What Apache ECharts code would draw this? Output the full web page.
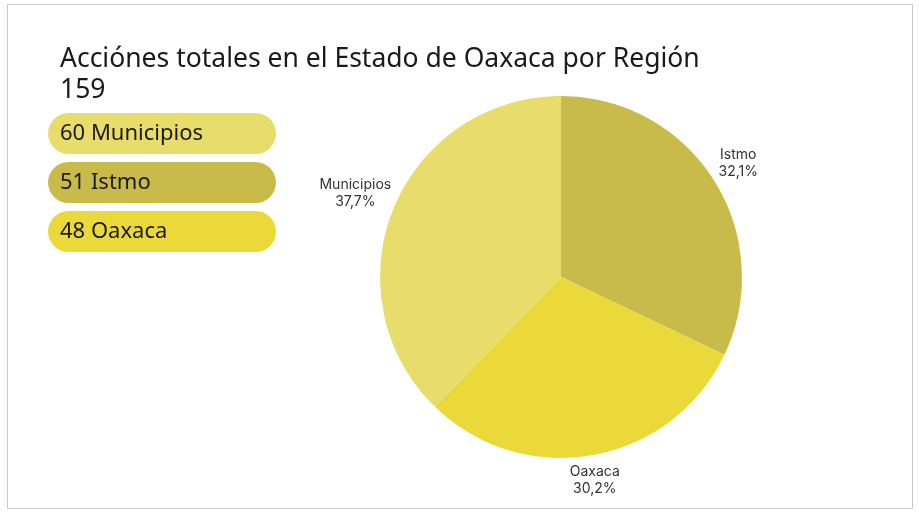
<!DOCTYPE html>
<html>
<head>
<meta charset="utf-8">
<script src="https://cdn.jsdelivr.net/npm/echarts@6/dist/echarts.min.js"></script>
<style>
html,body{margin:0;padding:0;background:#fff;}
#chart{width:919px;height:514px;}
</style>
</head>
<body>
<div id="chart"></div>
<script>
// ---- data ----
const titleText = 'Acciónes totales en el Estado de Oaxaca por Región';
const categories = ['Municipios', 'Istmo', 'Oaxaca'];
const values = [60, 51, 48];
const colors = ['#e8dc6a', '#c9bb4a', '#ebd93a'];
const pieOrder = ['Istmo', 'Oaxaca', 'Municipios'];

// ---- layout constants ----
const CX = 561, CY = 277, R = 181, GAP = 10, K = 0.4, DY = 2;
const FONT = '"Noto Sans", "Open Sans", sans-serif';

const total = values.reduce((a, b) => a + b, 0);
const pieData = pieOrder.map(name => {
  const i = categories.indexOf(name);
  return { name: name, value: values[i], itemStyle: { color: colors[i] } };
});
let cum = 0;
const midAngles = pieData.map(d => {
  const a = 90 - (cum + d.value / 2) / total * 360;
  cum += d.value;
  return a;
});

const pills = categories.map((name, i) => ({
  type: 'group',
  left: 48,
  top: 113 + i * 49,
  children: [
    { type: 'rect', shape: { x: 0, y: 0, width: 228, height: 41, r: 20.5 }, style: { fill: colors[i] } },
    { type: 'text', x: 12, y: 20.5, style: { text: values[i] + ' ' + name, font: '22px ' + FONT, fill: '#1a1a1a', textVerticalAlign: 'middle' } }
  ]
}));

const chart = echarts.init(document.getElementById('chart'), null, { renderer: 'canvas' });
chart.setOption({
  backgroundColor: '#ffffff',
  animation: false,
  title: {
    text: titleText + '\n' + total,
    left: 55,
    top: 39,
    textStyle: { fontFamily: FONT, fontSize: 26.5, fontWeight: 'normal', color: '#1a1a1a', lineHeight: 31 }
  },
  graphic: [
    { type: 'rect', shape: { x: 7.5, y: 4.5, width: 905, height: 504 }, style: { fill: 'none', stroke: '#c8c8c8', lineWidth: 1 }, silent: true }
  ].concat(pills),
  series: [{
    type: 'pie',
    center: [CX, CY],
    radius: [0, R],
    startAngle: 90,
    clockwise: true,
    data: pieData,
    itemStyle: { borderWidth: 0 },
    label: {
      show: true,
      position: 'outside',
      fontFamily: 'Inter, Roboto, sans-serif',
      fontSize: 14,
      lineHeight: 17,
      color: '#333',
      formatter: p => p.name + '\n' + (p.value / total * 100).toFixed(1).replace('.', ',') + '%'
    },
    labelLine: { show: false, length: 5, length2: 0 },
    labelLayout: function (params) {
      const a = midAngles[params.dataIndex] * Math.PI / 180;
      const c = Math.cos(a), s = Math.sin(a);
      const px = CX + (R + GAP) * c, py = CY - (R + GAP) * s;
      const w = params.labelRect.width, h = params.labelRect.height;
      const ax = c > 0.3 ? 1 : (c < -0.3 ? -1 : 0);
      const ay = s > 0.3 ? 1 : (s < -0.3 ? -1 : 0);
      return { x: px + ax * w * K, y: py - ay * h * K + DY, align: 'center', verticalAlign: 'middle' };
    },
    emphasis: { disabled: true }
  }]
});
</script>
</body>
</html>
